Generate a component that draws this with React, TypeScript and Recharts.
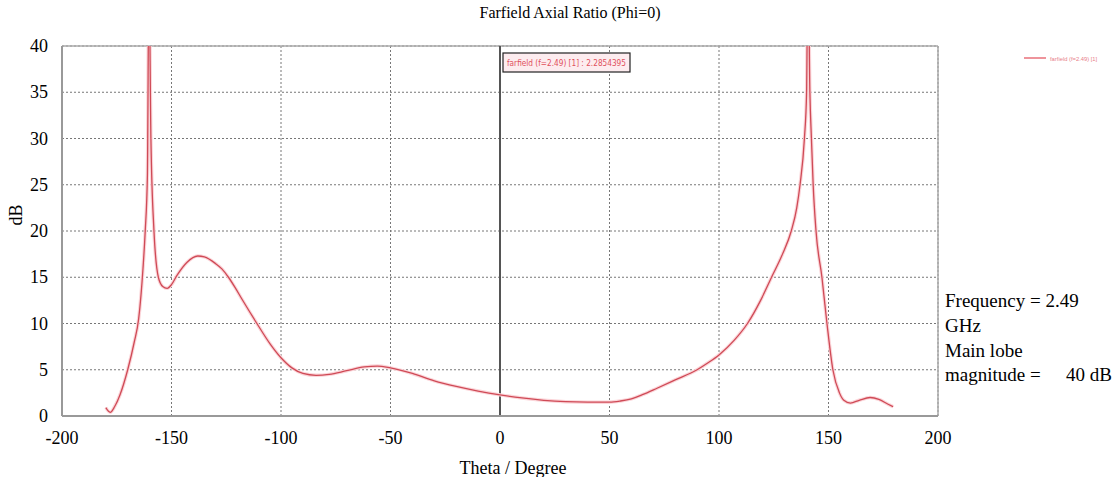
import { LineChart, Line, XAxis, YAxis, CartesianGrid, ReferenceLine } from 'recharts';

// theta (deg) and axial ratio (dB)
const theta = [
  -180, -178, -176, -173.5, -170, -167, -165, -163, -162, -161, -160.3, -159.4, -158, -156, -154, -152, -150,
  -147.5, -143, -138, -135, -130, -127, -124, -121, -118, -111, -105, -100, -95, -90, -84, -78, -70, -62, -56, -50, -40,
  -30, -20, -10, 0, 10, 20, 30, 40, 50, 55, 60, 65, 71.7, 80, 90, 95, 100, 107, 113, 119, 124, 129, 133, 135.5, 137, 139,
  140, 140.6, 141.5, 142.2, 143, 144.3, 147, 149.3, 152, 155, 157, 160, 164, 169, 173, 177, 179.5,
];
const axialRatio = [
  0.9, 0.4, 1.0, 2.3, 5.0, 8.0, 10.5, 16, 20, 26, 48, 30, 20, 15, 14, 13.8, 14.2,
  15.2, 16.6, 17.3, 17.2, 16.5, 15.9, 15.0, 13.9, 12.7, 10, 7.8, 6.3, 5.2, 4.6, 4.4, 4.5, 4.9, 5.3, 5.4, 5.2, 4.6,
  3.8, 3.2, 2.7, 2.285, 1.95, 1.7, 1.55, 1.5, 1.5, 1.62, 1.85, 2.3, 3.0, 3.9, 5.0, 5.75, 6.6, 8.2, 10, 12.5, 15, 17.5, 20, 22.5, 25, 30,
  35, 50, 35, 30, 25, 20, 15, 10, 5, 2.5, 1.7, 1.4, 1.7, 2.0, 1.8, 1.3, 1.0,
];
const xTicks = [-200, -150, -100, -50, 0, 50, 100, 150, 200];
const yTicks = [0, 5, 10, 15, 20, 25, 30, 35, 40];

const data = theta.map((t, i) => ({ theta: t, ar: axialRatio[i] }));

const serif = 'Liberation Serif';
const sans = 'DejaVu Sans';

function XTick({ x, y, payload }: any) {
  return (
    <text x={x} y={y + 20} textAnchor="middle" fontSize={18} fontFamily={serif} fill="#000">
      {payload.value}
    </text>
  );
}

function YTick({ x, y, payload }: any) {
  return (
    <text x={x} y={y + 6} textAnchor="end" fontSize={18} fontFamily={serif} fill="#000">
      {payload.value}
    </text>
  );
}

export default function App() {
  return (
    <div style={{ position: 'absolute', left: 0, top: 0, width: 1120, height: 477, background: '#fff', overflow: 'hidden' }}>
      <LineChart width={1120} height={477} data={data} margin={{ top: 46, right: 182, bottom: 0, left: 0 }}>
        <CartesianGrid stroke="#777" strokeDasharray="2 2" horizontalValues={yTicks} verticalValues={xTicks} />
        <XAxis
          dataKey="theta"
          type="number"
          domain={[-200, 200]}
          ticks={xTicks}
          height={61}
          stroke="#999"
          strokeWidth={2}
          tickLine={false}
          tickMargin={2}
          tick={<XTick />}
        />
        <YAxis
          type="number"
          domain={[0, 40]}
          ticks={yTicks}
          allowDataOverflow
          width={62}
          stroke="#999"
          strokeWidth={2}
          tickLine={false}
          tickMargin={8}
          tick={<YTick />}
        />
        <ReferenceLine y={40} stroke="#aaa" strokeWidth={1.5} />
        <ReferenceLine x={200} stroke="#aaa" strokeWidth={1.5} />
        <ReferenceLine x={0} stroke="#555" strokeWidth={2} />
        <Line type="monotone" dataKey="ar" stroke="#fbd5d9" strokeWidth={3.5} dot={false} isAnimationActive={false} />
        <Line type="monotone" dataKey="ar" stroke="#cf4a56" strokeWidth={1.3} dot={false} isAnimationActive={false} />
      </LineChart>

      <svg width={1120} height={477} style={{ position: 'absolute', left: 0, top: 0, pointerEvents: 'none' }}>
        <text x={570} y={18} textAnchor="middle" fontSize={16} fontFamily={serif}>
          Farfield Axial Ratio (Phi=0)
        </text>
        <text x={22} y={215} textAnchor="middle" fontSize={18} fontFamily={serif} transform="rotate(-90 22 215)">
          dB
        </text>
        <text x={513} y={474} textAnchor="middle" fontSize={18} fontFamily={serif}>
          Theta / Degree
        </text>

        {/* marker box at theta = 0 */}
        <rect x={503} y={53} width={127} height={19} fill="#fdecef" stroke="#222" strokeWidth={1.2} />
        <text x={507} y={66} fontSize={8} fontFamily={sans} fill="#e0505c" textLength={119} lengthAdjust="spacingAndGlyphs">
          farfield (f=2.49) [1] : 2.2854395
        </text>

        {/* legend */}
        <line x1={1024} y1={58} x2={1046} y2={58} stroke="#e8707a" strokeWidth={1.5} />
        <text x={1050} y={60.5} fontSize={5.8} fontFamily="Liberation Sans" fill="#e8808a">
          farfield (f=2.49) [1]
        </text>

        <g fontSize={19} fontFamily={serif} fill="#000">
          <text x={945} y={307}>Frequency = 2.49</text>
          <text x={945} y={332}>GHz</text>
          <text x={945} y={357}>Main lobe</text>
          <text x={945} y={381}>magnitude =</text>
          <text x={1112} y={381} textAnchor="end">40 dB</text>
        </g>
      </svg>
    </div>
  );
}
